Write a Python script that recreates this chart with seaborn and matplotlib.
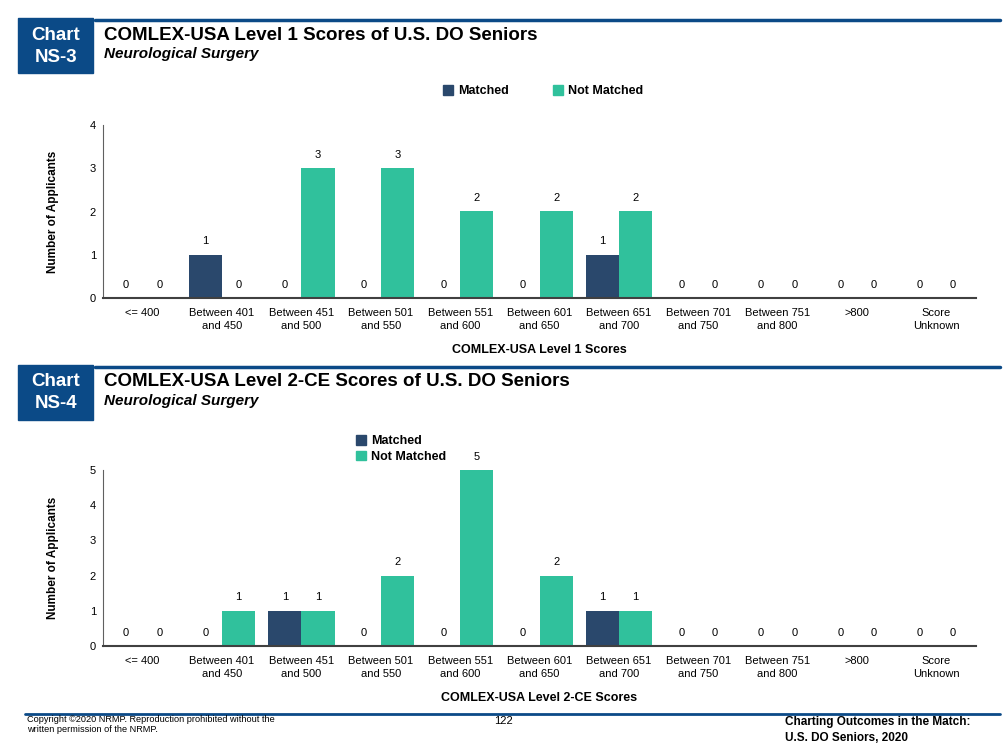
import matplotlib
matplotlib.use("Agg")
import matplotlib.pyplot as plt
import numpy as np
import pandas as pd
import seaborn as sns

# categories shared by both charts
categories = ["<= 400", "Between 401\nand 450", "Between 451\nand 500", "Between 501\nand 550",
              "Between 551\nand 600", "Between 601\nand 650", "Between 651\nand 700",
              "Between 701\nand 750", "Between 751\nand 800", ">800", "Score\nUnknown"]

# NS-3: COMLEX Level 1
l1_matched = [0, 1, 0, 0, 0, 0, 1, 0, 0, 0, 0]
l1_not_matched = [0, 0, 3, 3, 2, 2, 2, 0, 0, 0, 0]

# NS-4: COMLEX Level 2-CE
l2_matched = [0, 0, 1, 0, 0, 0, 1, 0, 0, 0, 0]
l2_not_matched = [0, 1, 1, 2, 5, 2, 1, 0, 0, 0, 0]

NAVY = "#2A486C"
GREEN = "#30C19C"
HEAD = "#0B4A87"

sns.set_style("white")
plt.rcParams['font.family'] = ['Liberation Sans', 'DejaVu Sans']
plt.rcParams['text.color'] = 'black'
plt.rcParams['axes.labelcolor'] = 'black'
plt.rcParams['xtick.color'] = 'black'
plt.rcParams['ytick.color'] = 'black'

W, H = 1005, 754
fig = plt.figure(figsize=(W / 100, H / 100), dpi=100)


def px_axes(x0, y0, x1, y1):
    return fig.add_axes([x0 / W, 1 - y1 / H, (x1 - x0) / W, (y1 - y0) / H])


def to_df(matched, not_matched):
    return pd.DataFrame({
        "cat": categories * 2,
        "n": matched + not_matched,
        "status": ["Matched"] * len(categories) + ["Not Matched"] * len(categories),
    })


def header(ytop, num, title):
    fig.patches.append(plt.Rectangle((18 / W, 1 - (ytop + 55) / H), 75 / W, 55 / H,
                                     transform=fig.transFigure, color=HEAD))
    fig.add_artist(plt.Line2D([95 / W, 1000 / W], [1 - (ytop + 2) / H] * 2,
                              transform=fig.transFigure, color=HEAD, lw=2.5))
    fig.text(56 / W, 1 - (ytop + 17) / H, "Chart", color="white", fontsize=13.5,
             fontweight="bold", ha="center", va="center")
    fig.text(56 / W, 1 - (ytop + 39) / H, num, color="white", fontsize=13.5,
             fontweight="bold", ha="center", va="center")
    fig.text(104 / W, 1 - (ytop + 17) / H, title, fontsize=13.5, fontweight="bold",
             va="center")
    fig.text(104 / W, 1 - (ytop + 36) / H, "Neurological Surgery", fontsize=11,
             fontweight="bold", style="italic", va="center")


def chart(ax, matched, not_matched, ymax, xlabel):
    df = to_df(matched, not_matched)
    sns.barplot(data=df, x="cat", y="n", hue="status", palette=[NAVY, GREEN],
                width=0.84, ax=ax, saturation=1, legend=False, linewidth=0)
    for c in ax.containers:
        ax.bar_label(c, labels=[str(int(v)) for v in c.datavalues], padding=6, fontsize=8)
    ax.set_xlim(-0.5, len(categories) - 0.5)
    ax.set_ylim(0, ymax)
    ax.set_yticks(range(ymax + 1))
    ax.tick_params(axis="both", length=0, labelsize=8, pad=5)
    ax.tick_params(axis="x", pad=7)
    for t in ax.get_xticklabels():
        t.set_linespacing(1.45)
    ax.set_ylabel("Number of Applicants", fontsize=8.5, fontweight="bold", labelpad=22)
    ax.set_xlabel(xlabel, fontsize=9, fontweight="bold", labelpad=9)
    for s in ["top", "right"]:
        ax.spines[s].set_visible(False)
    ax.spines["left"].set_color("#606060")
    ax.spines["bottom"].set_color("#404040")
    ax.spines["bottom"].set_linewidth(1.5)


header(18, "NS-3", "COMLEX-USA Level 1 Scores of U.S. DO Seniors")
ax1 = px_axes(103, 125, 976, 298)
chart(ax1, l1_matched, l1_not_matched, 4, "COMLEX-USA Level 1 Scores")
handles = [plt.Rectangle((0, 0), 1, 1, color=NAVY), plt.Rectangle((0, 0), 1, 1, color=GREEN)]
fig.legend(handles, ["Matched", "Not Matched"], loc="center", bbox_to_anchor=(543 / W, 1 - 91 / H),
           ncol=2, frameon=False, handlelength=0.8, handleheight=0.8, columnspacing=3.5,
           handletextpad=0.4, prop={"weight": "bold", "size": 9})

header(365, "NS-4", "COMLEX-USA Level 2-CE Scores of U.S. DO Seniors")
ax2 = px_axes(103, 470, 976, 646)
chart(ax2, l2_matched, l2_not_matched, 5, "COMLEX-USA Level 2-CE Scores")
fig.legend(handles, ["Matched", "Not Matched"], loc="upper left", bbox_to_anchor=(350 / W, 1 - 429 / H),
           ncol=1, frameon=False, handlelength=0.8, handleheight=0.8, labelspacing=0.25,
           handletextpad=0.4, borderpad=0, prop={"weight": "bold", "size": 9})

# footer
fig.add_artist(plt.Line2D([25 / W, 1000 / W], [1 - 714 / H] * 2, transform=fig.transFigure,
                          color=HEAD, lw=2))
fig.text(27 / W, 1 - 719 / H, "Copyright \u00a92020 NRMP. Reproduction prohibited without the",
         fontsize=6.6, va="center")
fig.text(27 / W, 1 - 730 / H, "written permission of the NRMP.", fontsize=6.6, va="center")
fig.text(503 / W, 1 - 721 / H, "122", fontsize=8, ha="center", va="center")
fig.text(785 / W, 1 - 722 / H, "Charting Outcomes in the Match:", fontsize=8.5,
         fontweight="bold", va="center")
fig.text(785 / W, 1 - 738 / H, "U.S. DO Seniors, 2020", fontsize=8.5,
         fontweight="bold", va="center")

fig.savefig("out.png", dpi=100)
